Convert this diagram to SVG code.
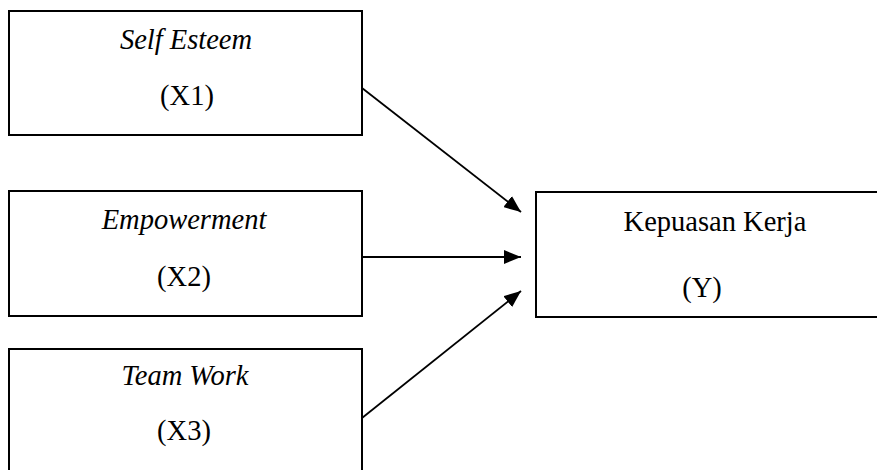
<svg xmlns="http://www.w3.org/2000/svg" width="877" height="470" viewBox="0 0 877 470">
<style>
.box{fill:#fff;stroke:#000;stroke-width:2}
.t{font-family:"Liberation Serif","Times New Roman",serif;font-size:28.5px;fill:#000;text-anchor:middle}
.i{font-style:italic}
.c{stroke:#000;stroke-width:1.8;fill:none;marker-end:url(#ah)}
</style>
<defs>
<marker id="ah" markerUnits="userSpaceOnUse" markerWidth="18" markerHeight="14" refX="17" refY="7" orient="auto">
<path d="M0,0 L17,7 L0,14 Z" fill="#000"/>
</marker>
</defs>
<rect width="877" height="470" fill="#fff"/>
<g id="x1">
<rect class="box" x="9" y="11" width="353" height="124"/>
<text class="t i" x="186" y="49">Self Esteem</text>
<text class="t" x="187" y="105">(X1)</text>
</g>
<g id="x2">
<rect class="box" x="9" y="191" width="353" height="125"/>
<text class="t i" x="184" y="229">Empowerment</text>
<text class="t" x="184" y="286">(X2)</text>
</g>
<g id="x3">
<rect class="box" x="9" y="349" width="353" height="130"/>
<text class="t i" x="185" y="385">Team Work</text>
<text class="t" x="184" y="440">(X3)</text>
</g>
<g id="y">
<rect class="box" x="536" y="192" width="350" height="125"/>
<text class="t" x="715" y="231">Kepuasan Kerja</text>
<text class="t" x="702" y="297">(Y)</text>
</g>
<g id="connectors">
<line class="c" x1="362" y1="88" x2="521" y2="212"/>
<line class="c" x1="362" y1="257" x2="521" y2="257"/>
<line class="c" x1="362" y1="418" x2="521" y2="291"/>
</g>
</svg>
